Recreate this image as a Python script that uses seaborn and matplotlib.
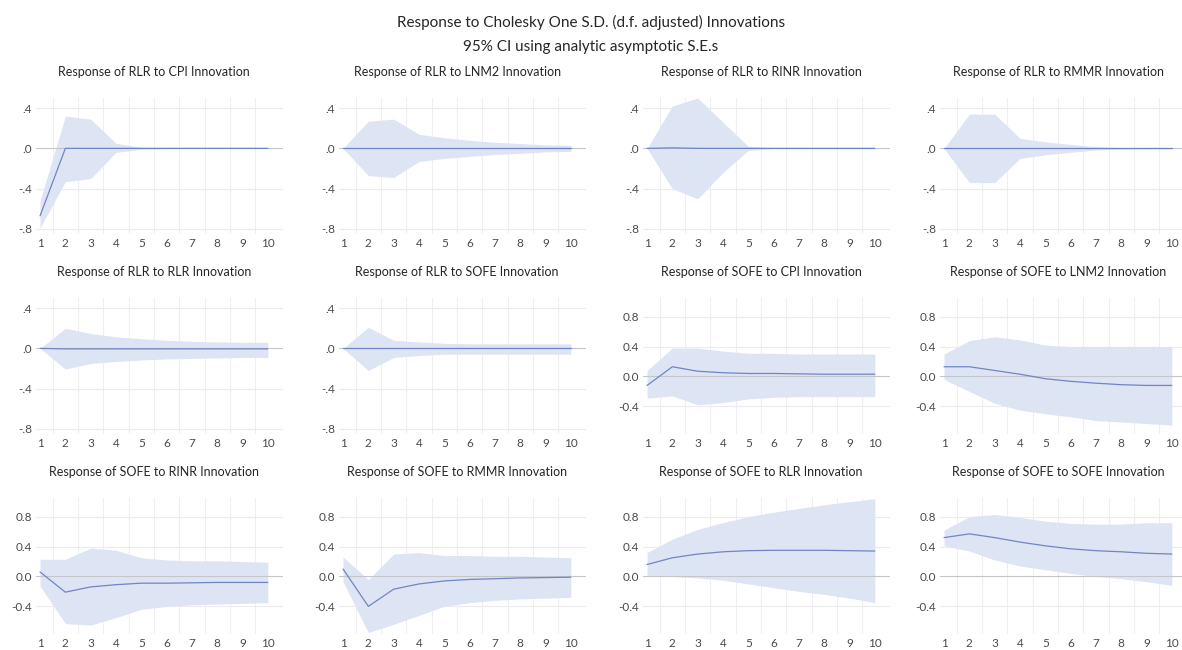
import matplotlib.pyplot as plt
import pandas as pd
import seaborn as sns

# Periods after the shock
periods = [1, 2, 3, 4, 5, 6, 7, 8, 9, 10]

# Panel titles (row by row)
titles = [
    'Response of RLR to CPI Innovation', 'Response of RLR to LNM2 Innovation',
    'Response of RLR to RINR Innovation', 'Response of RLR to RMMR Innovation',
    'Response of RLR to RLR Innovation', 'Response of RLR to SOFE Innovation',
    'Response of SOFE to CPI Innovation', 'Response of SOFE to LNM2 Innovation',
    'Response of SOFE to RINR Innovation', 'Response of SOFE to RMMR Innovation',
    'Response of SOFE to RLR Innovation', 'Response of SOFE to SOFE Innovation',
]

# Response of RLR
rlr_cpi = [-0.67, 0.0, 0.0, 0.0, 0.0, 0.0, 0.0, 0.0, 0.0, 0.0]
rlr_cpi_lo = [-0.79, -0.33, -0.30, -0.04, -0.01, -0.005, 0.0, 0.0, 0.0, 0.0]
rlr_cpi_hi = [-0.52, 0.32, 0.29, 0.05, 0.01, 0.005, 0.0, 0.0, 0.0, 0.0]

rlr_lnm2 = [0.0, 0.0, 0.0, 0.0, 0.0, 0.0, 0.0, 0.0, 0.0, 0.0]
rlr_lnm2_lo = [0.0, -0.27, -0.29, -0.13, -0.10, -0.08, -0.06, -0.05, -0.035, -0.03]
rlr_lnm2_hi = [0.0, 0.27, 0.29, 0.14, 0.105, 0.08, 0.06, 0.048, 0.035, 0.03]

rlr_rinr = [0.0, 0.005, 0.0, 0.0, 0.0, 0.0, 0.0, 0.0, 0.0, 0.0]
rlr_rinr_lo = [0.0, -0.40, -0.50, -0.24, -0.02, -0.005, -0.005, -0.005, -0.005, -0.005]
rlr_rinr_hi = [0.0, 0.42, 0.50, 0.26, 0.02, 0.005, 0.005, 0.005, 0.005, 0.005]

rlr_rmmr = [0.0, 0.0, 0.0, 0.0, 0.0, 0.0, 0.0, 0.0, 0.0, 0.0]
rlr_rmmr_lo = [0.0, -0.34, -0.34, -0.10, -0.064, -0.04, -0.016, -0.008, -0.005, -0.003]
rlr_rmmr_hi = [0.0, 0.34, 0.34, 0.10, 0.064, 0.04, 0.016, 0.008, 0.005, 0.003]

rlr_rlr = [0.0, -0.005, -0.005, -0.005, -0.005, -0.005, -0.005, -0.005, -0.005, -0.005]
rlr_rlr_lo = [0.0, -0.205, -0.15, -0.13, -0.115, -0.105, -0.10, -0.095, -0.09, -0.09]
rlr_rlr_hi = [0.0, 0.20, 0.147, 0.115, 0.096, 0.08, 0.07, 0.064, 0.06, 0.06]

rlr_sofe = [0.0, 0.0, 0.0, 0.0, 0.0, 0.0, 0.0, 0.0, 0.0, 0.0]
rlr_sofe_lo = [0.0, -0.22, -0.09, -0.07, -0.058, -0.058, -0.058, -0.058, -0.058, -0.058]
rlr_sofe_hi = [0.0, 0.21, 0.08, 0.064, 0.05, 0.045, 0.045, 0.045, 0.045, 0.045]

# Response of SOFE
sofe_cpi = [-0.12, 0.13, 0.07, 0.05, 0.04, 0.04, 0.035, 0.03, 0.03, 0.03]
sofe_cpi_lo = [-0.29, -0.26, -0.38, -0.35, -0.30, -0.28, -0.27, -0.27, -0.27, -0.27]
sofe_cpi_hi = [0.08, 0.38, 0.38, 0.34, 0.31, 0.31, 0.30, 0.30, 0.30, 0.30]

sofe_lnm2 = [0.13, 0.13, 0.08, 0.03, -0.03, -0.065, -0.09, -0.11, -0.12, -0.12]
sofe_lnm2_lo = [-0.04, -0.20, -0.36, -0.45, -0.50, -0.54, -0.59, -0.61, -0.63, -0.65]
sofe_lnm2_hi = [0.30, 0.48, 0.53, 0.49, 0.42, 0.40, 0.40, 0.40, 0.40, 0.40]

sofe_rinr = [0.06, -0.21, -0.14, -0.11, -0.09, -0.09, -0.085, -0.08, -0.08, -0.08]
sofe_rinr_lo = [-0.13, -0.63, -0.65, -0.55, -0.44, -0.40, -0.38, -0.37, -0.36, -0.35]
sofe_rinr_hi = [0.23, 0.23, 0.38, 0.35, 0.25, 0.22, 0.21, 0.21, 0.20, 0.19]

sofe_rmmr = [0.10, -0.40, -0.17, -0.10, -0.06, -0.04, -0.03, -0.02, -0.015, -0.01]
sofe_rmmr_lo = [-0.07, -0.75, -0.64, -0.52, -0.40, -0.35, -0.32, -0.30, -0.29, -0.28]
sofe_rmmr_hi = [0.26, -0.04, 0.30, 0.32, 0.28, 0.28, 0.27, 0.27, 0.26, 0.25]

sofe_rlr = [0.16, 0.25, 0.30, 0.33, 0.345, 0.35, 0.35, 0.35, 0.345, 0.34]
sofe_rlr_lo = [0.0, 0.0, -0.02, -0.05, -0.10, -0.15, -0.20, -0.24, -0.29, -0.35]
sofe_rlr_hi = [0.32, 0.50, 0.63, 0.72, 0.80, 0.86, 0.91, 0.96, 1.00, 1.04]

sofe_sofe = [0.52, 0.57, 0.52, 0.46, 0.41, 0.37, 0.345, 0.33, 0.31, 0.30]
sofe_sofe_lo = [0.41, 0.34, 0.22, 0.14, 0.09, 0.04, 0.0, -0.03, -0.07, -0.12]
sofe_sofe_hi = [0.62, 0.80, 0.83, 0.79, 0.74, 0.71, 0.70, 0.70, 0.72, 0.72]

panels = [
    (rlr_cpi, rlr_cpi_lo, rlr_cpi_hi), (rlr_lnm2, rlr_lnm2_lo, rlr_lnm2_hi),
    (rlr_rinr, rlr_rinr_lo, rlr_rinr_hi), (rlr_rmmr, rlr_rmmr_lo, rlr_rmmr_hi),
    (rlr_rlr, rlr_rlr_lo, rlr_rlr_hi), (rlr_sofe, rlr_sofe_lo, rlr_sofe_hi),
    (sofe_cpi, sofe_cpi_lo, sofe_cpi_hi), (sofe_lnm2, sofe_lnm2_lo, sofe_lnm2_hi),
    (sofe_rinr, sofe_rinr_lo, sofe_rinr_hi), (sofe_rmmr, sofe_rmmr_lo, sofe_rmmr_hi),
    (sofe_rlr, sofe_rlr_lo, sofe_rlr_hi), (sofe_sofe, sofe_sofe_lo, sofe_sofe_hi),
]

sns.set_style('white')
plt.rcParams['font.family'] = ['Lato', 'DejaVu Sans']

fig = plt.figure(figsize=(11.82, 6.5), dpi=100)

col_left = [36, 339, 643, 940]
row_top = [98, 298, 498]
ax_w, ax_h = 247, 136

line_color = '#7086c2'
band_color = '#dde4f3'

for i, (title, (resp, lo, hi)) in enumerate(zip(titles, panels)):
    r, c = divmod(i, 4)
    left = col_left[c] / 1182
    bottom = 1 - (row_top[r] + ax_h) / 650
    ax = fig.add_axes([left, bottom, ax_w / 1182, ax_h / 650])

    df = pd.DataFrame({'period': periods, 'resp': resp, 'lo': lo, 'hi': hi})
    sofe = title.startswith('Response of SOFE')

    # light grid
    for x in [p + 0.5 for p in periods[:-1]]:
        ax.axvline(x, color='#eeeef3', lw=0.8, zorder=0)
    if sofe:
        ticks = [0.8, 0.4, 0.0, -0.4]
        labels = ['0.8', '0.4', '0.0', '-0.4']
        ax.set_ylim(-0.77, 1.05)
    else:
        ticks = [0.4, 0.0, -0.4, -0.8]
        labels = ['.4', '.0', '-.4', '-.8']
        ax.set_ylim(-0.85, 0.5)
    for t in ticks:
        if t == 0:
            ax.axhline(t, color='#c4c6cc', lw=0.8, zorder=1.5)
        else:
            ax.axhline(t, color='#ececec', lw=0.8, zorder=0)

    ax.fill_between(df['period'], df['lo'], df['hi'], color=band_color, lw=0, zorder=1)
    sns.lineplot(data=df, x='period', y='resp', color=line_color, lw=0.9, ax=ax, zorder=2)

    ax.set_xlim(0.84, 10.6)
    ax.set_xticks(periods)
    ax.set_yticks(ticks)
    ax.set_yticklabels(labels)
    ax.tick_params(length=0, labelsize=8.5, colors='#4a4a4a', pad=3)
    ax.set_xlabel('')
    ax.set_ylabel('')
    sns.despine(ax=ax, left=True, bottom=True)
    ax.text(0.478, 1 + 26 / ax_h, title, transform=ax.transAxes,
            ha='center', va='center', fontsize=9, color='#262626')

fig.text(0.5, 1 - 22 / 650, 'Response to Cholesky One S.D. (d.f. adjusted) Innovations',
         ha='center', va='center', fontsize=11, color='#262626')
fig.text(0.5, 1 - 47 / 650, '95% CI using analytic asymptotic S.E.s',
         ha='center', va='center', fontsize=11, color='#262626')

plt.savefig('out.png', dpi=100)
